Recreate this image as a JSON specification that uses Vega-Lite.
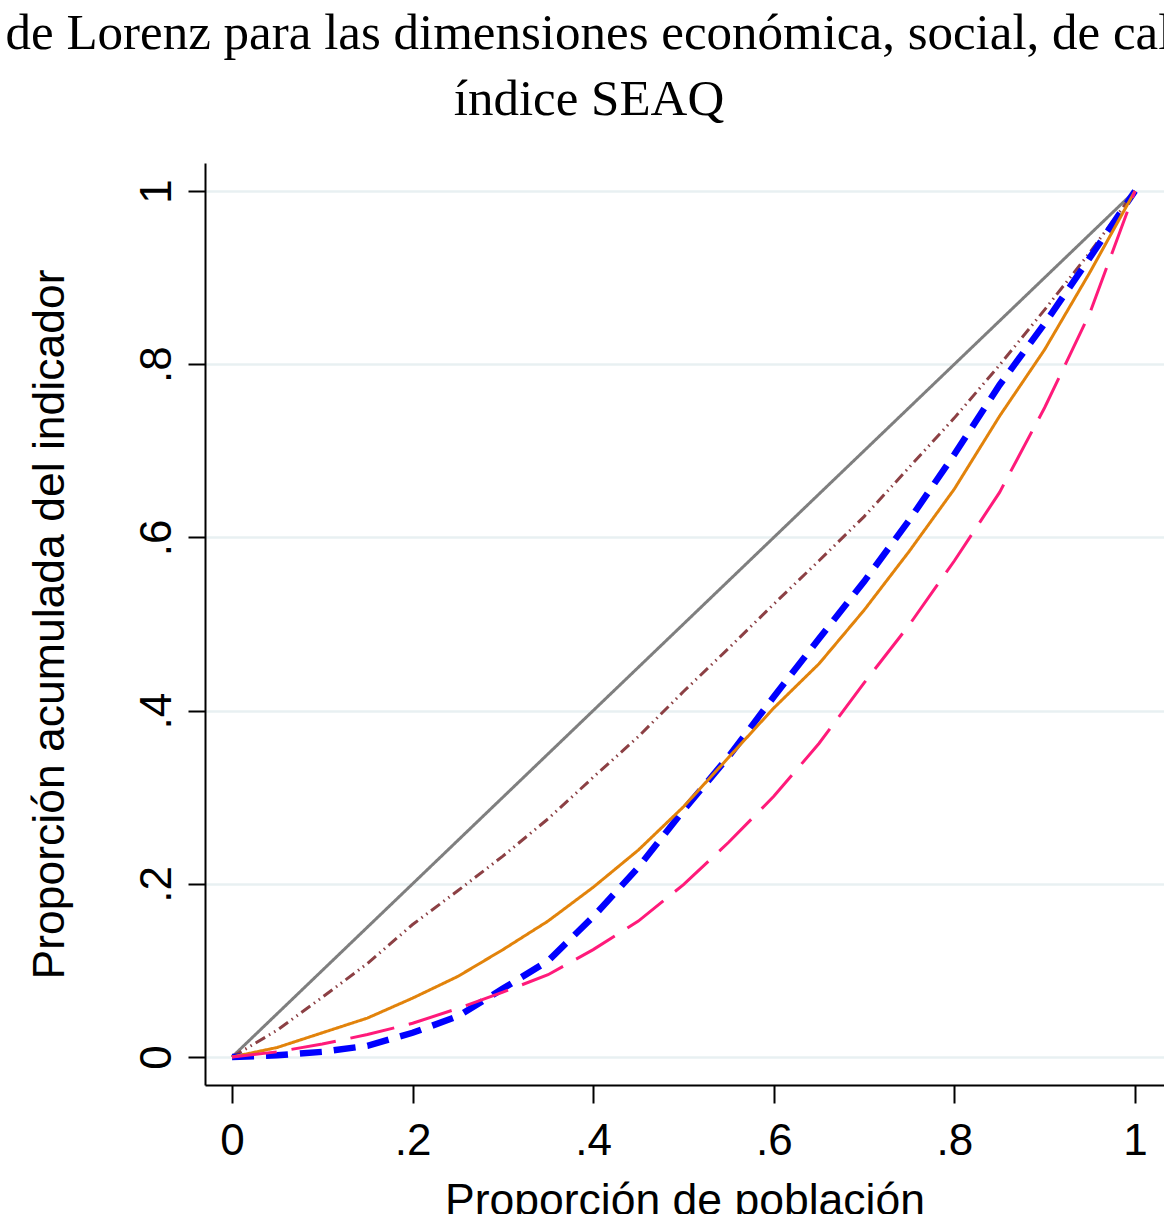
{
  "$schema": "https://vega.github.io/schema/vega-lite/v6.json",
  "autosize": "none",
  "padding": {"left": 205, "top": 163, "right": 0, "bottom": 129},
  "width": 959,
  "height": 922,
  "background": "white",
  "title": {
    "text": ["de Lorenz para las dimensiones económica, social, de cal", "índice SEAQ"],
    "font": "Liberation Serif",
    "fontSize": 51,
    "fontWeight": "normal",
    "color": "black",
    "lineHeight": 66,
    "anchor": "middle",
    "dx": -95.5,
    "offset": 37
  },
  "config": {
    "view": {"stroke": null},
    "axis": {
      "labelFont": "Liberation Sans",
      "titleFont": "Liberation Sans",
      "labelFontSize": 44,
      "titleFontSize": 44.5,
      "titleFontWeight": "normal",
      "labelColor": "black",
      "titleColor": "black",
      "domainColor": "black",
      "domainWidth": 2,
      "tickColor": "black",
      "tickWidth": 2
    }
  },
  "data": {
    "values": [
      {"serie": "Igualdad", "p": 0, "L": 0},
      {"serie": "Igualdad", "p": 1, "L": 1},

      {"serie": "Económica", "p": 0, "L": 0},
      {"serie": "Económica", "p": 0.05, "L": 0.031},
      {"serie": "Económica", "p": 0.1, "L": 0.069},
      {"serie": "Económica", "p": 0.15, "L": 0.108},
      {"serie": "Económica", "p": 0.2, "L": 0.153},
      {"serie": "Económica", "p": 0.25, "L": 0.192},
      {"serie": "Económica", "p": 0.3, "L": 0.232},
      {"serie": "Económica", "p": 0.35, "L": 0.275},
      {"serie": "Económica", "p": 0.4, "L": 0.323},
      {"serie": "Económica", "p": 0.45, "L": 0.37},
      {"serie": "Económica", "p": 0.5, "L": 0.422},
      {"serie": "Económica", "p": 0.55, "L": 0.472},
      {"serie": "Económica", "p": 0.6, "L": 0.523},
      {"serie": "Económica", "p": 0.65, "L": 0.573},
      {"serie": "Económica", "p": 0.7, "L": 0.624},
      {"serie": "Económica", "p": 0.75, "L": 0.681},
      {"serie": "Económica", "p": 0.8, "L": 0.738},
      {"serie": "Económica", "p": 0.85, "L": 0.799},
      {"serie": "Económica", "p": 0.9, "L": 0.863},
      {"serie": "Económica", "p": 0.95, "L": 0.929},
      {"serie": "Económica", "p": 1, "L": 1},

      {"serie": "SEAQ", "p": 0, "L": 0},
      {"serie": "SEAQ", "p": 0.05, "L": 0.002},
      {"serie": "SEAQ", "p": 0.1, "L": 0.006},
      {"serie": "SEAQ", "p": 0.15, "L": 0.013},
      {"serie": "SEAQ", "p": 0.2, "L": 0.028},
      {"serie": "SEAQ", "p": 0.25, "L": 0.047},
      {"serie": "SEAQ", "p": 0.3, "L": 0.079},
      {"serie": "SEAQ", "p": 0.35, "L": 0.111},
      {"serie": "SEAQ", "p": 0.4, "L": 0.162},
      {"serie": "SEAQ", "p": 0.45, "L": 0.219},
      {"serie": "SEAQ", "p": 0.5, "L": 0.285},
      {"serie": "SEAQ", "p": 0.55, "L": 0.347},
      {"serie": "SEAQ", "p": 0.6, "L": 0.416},
      {"serie": "SEAQ", "p": 0.65, "L": 0.483},
      {"serie": "SEAQ", "p": 0.7, "L": 0.549},
      {"serie": "SEAQ", "p": 0.75, "L": 0.62},
      {"serie": "SEAQ", "p": 0.8, "L": 0.696},
      {"serie": "SEAQ", "p": 0.85, "L": 0.776},
      {"serie": "SEAQ", "p": 0.9, "L": 0.847},
      {"serie": "SEAQ", "p": 0.95, "L": 0.923},
      {"serie": "SEAQ", "p": 1, "L": 1},

      {"serie": "Social", "p": 0, "L": 0},
      {"serie": "Social", "p": 0.05, "L": 0.011},
      {"serie": "Social", "p": 0.1, "L": 0.028},
      {"serie": "Social", "p": 0.15, "L": 0.045},
      {"serie": "Social", "p": 0.2, "L": 0.068},
      {"serie": "Social", "p": 0.25, "L": 0.093},
      {"serie": "Social", "p": 0.3, "L": 0.124},
      {"serie": "Social", "p": 0.35, "L": 0.157},
      {"serie": "Social", "p": 0.4, "L": 0.196},
      {"serie": "Social", "p": 0.45, "L": 0.239},
      {"serie": "Social", "p": 0.5, "L": 0.289},
      {"serie": "Social", "p": 0.55, "L": 0.346},
      {"serie": "Social", "p": 0.6, "L": 0.403},
      {"serie": "Social", "p": 0.65, "L": 0.454},
      {"serie": "Social", "p": 0.7, "L": 0.516},
      {"serie": "Social", "p": 0.75, "L": 0.584},
      {"serie": "Social", "p": 0.8, "L": 0.656},
      {"serie": "Social", "p": 0.85, "L": 0.74},
      {"serie": "Social", "p": 0.9, "L": 0.817},
      {"serie": "Social", "p": 0.95, "L": 0.906},
      {"serie": "Social", "p": 1, "L": 1},

      {"serie": "Calidad ambiental", "p": 0, "L": 0},
      {"serie": "Calidad ambiental", "p": 0.05, "L": 0.006},
      {"serie": "Calidad ambiental", "p": 0.1, "L": 0.015},
      {"serie": "Calidad ambiental", "p": 0.15, "L": 0.026},
      {"serie": "Calidad ambiental", "p": 0.2, "L": 0.039},
      {"serie": "Calidad ambiental", "p": 0.25, "L": 0.056},
      {"serie": "Calidad ambiental", "p": 0.3, "L": 0.075},
      {"serie": "Calidad ambiental", "p": 0.35, "L": 0.095},
      {"serie": "Calidad ambiental", "p": 0.4, "L": 0.124},
      {"serie": "Calidad ambiental", "p": 0.45, "L": 0.157},
      {"serie": "Calidad ambiental", "p": 0.5, "L": 0.199},
      {"serie": "Calidad ambiental", "p": 0.55, "L": 0.248},
      {"serie": "Calidad ambiental", "p": 0.6, "L": 0.301},
      {"serie": "Calidad ambiental", "p": 0.65, "L": 0.362},
      {"serie": "Calidad ambiental", "p": 0.7, "L": 0.432},
      {"serie": "Calidad ambiental", "p": 0.75, "L": 0.499},
      {"serie": "Calidad ambiental", "p": 0.8, "L": 0.573},
      {"serie": "Calidad ambiental", "p": 0.85, "L": 0.652},
      {"serie": "Calidad ambiental", "p": 0.9, "L": 0.75},
      {"serie": "Calidad ambiental", "p": 0.95, "L": 0.859},
      {"serie": "Calidad ambiental", "p": 1, "L": 1}
    ]
  },
  "mark": {"type": "line", "strokeCap": "butt", "strokeJoin": "miter"},
  "encoding": {
    "x": {
      "field": "p",
      "type": "quantitative",
      "scale": {"domain": [-0.0299, 1.0321], "nice": false, "zero": false},
      "axis": {
        "title": "Proporción de población",
        "values": [0, 0.2, 0.4, 0.6, 0.8, 1],
        "labelExpr": "datum.value == 0 ? '0' : datum.value == 1 ? '1' : '.' + toString(round(datum.value * 10))",
        "grid": false,
        "tickSize": 18,
        "labelPadding": 16,
        "labelBaseline": "top",
        "labelFlush": false,
        "titleBaseline": "alphabetic",
        "titleY": 129.5,
        "titleX": 479.5,
        "titleAlign": "center"
      }
    },
    "y": {
      "field": "L",
      "type": "quantitative",
      "scale": {"domain": [-0.0323, 1.0323], "nice": false, "zero": false},
      "axis": {
        "title": "Proporción acumulada del indicador",
        "values": [0, 0.2, 0.4, 0.6, 0.8, 1],
        "labelExpr": "datum.value == 0 ? '0' : datum.value == 1 ? '1' : '.' + toString(round(datum.value * 10))",
        "grid": true,
        "gridColor": "#E8F0F2",
        "gridWidth": 2.5,
        "tickSize": 17,
        "labelAngle": 270,
        "labelAlign": "center",
        "labelBaseline": "alphabetic",
        "labelPadding": 18,
        "labelFlush": false,
        "titleAngle": 270,
        "titleAlign": "center",
        "titleBaseline": "alphabetic",
        "titleX": -142,
        "titleY": 461
      }
    },
    "color": {
      "field": "serie",
      "type": "nominal",
      "scale": {
        "domain": ["Igualdad", "Económica", "SEAQ", "Social", "Calidad ambiental"],
        "range": ["#7F7F7F", "#8C4044", "#0000FF", "#E2830B", "#FF1A7A"]
      },
      "legend": null
    },
    "strokeDash": {
      "field": "serie",
      "type": "nominal",
      "scale": {
        "domain": ["Igualdad", "Económica", "SEAQ", "Social", "Calidad ambiental"],
        "range": [[1, 0], [11, 4.5, 1.5, 4.5, 1.5, 4.5], [22, 12], [1, 0], [45, 15]]
      },
      "legend": null
    },
    "strokeWidth": {
      "field": "serie",
      "type": "nominal",
      "scale": {
        "type": "ordinal",
        "domain": ["Igualdad", "Económica", "SEAQ", "Social", "Calidad ambiental"],
        "range": [3, 3, 6.5, 3, 3]
      },
      "legend": null
    }
  }
}
